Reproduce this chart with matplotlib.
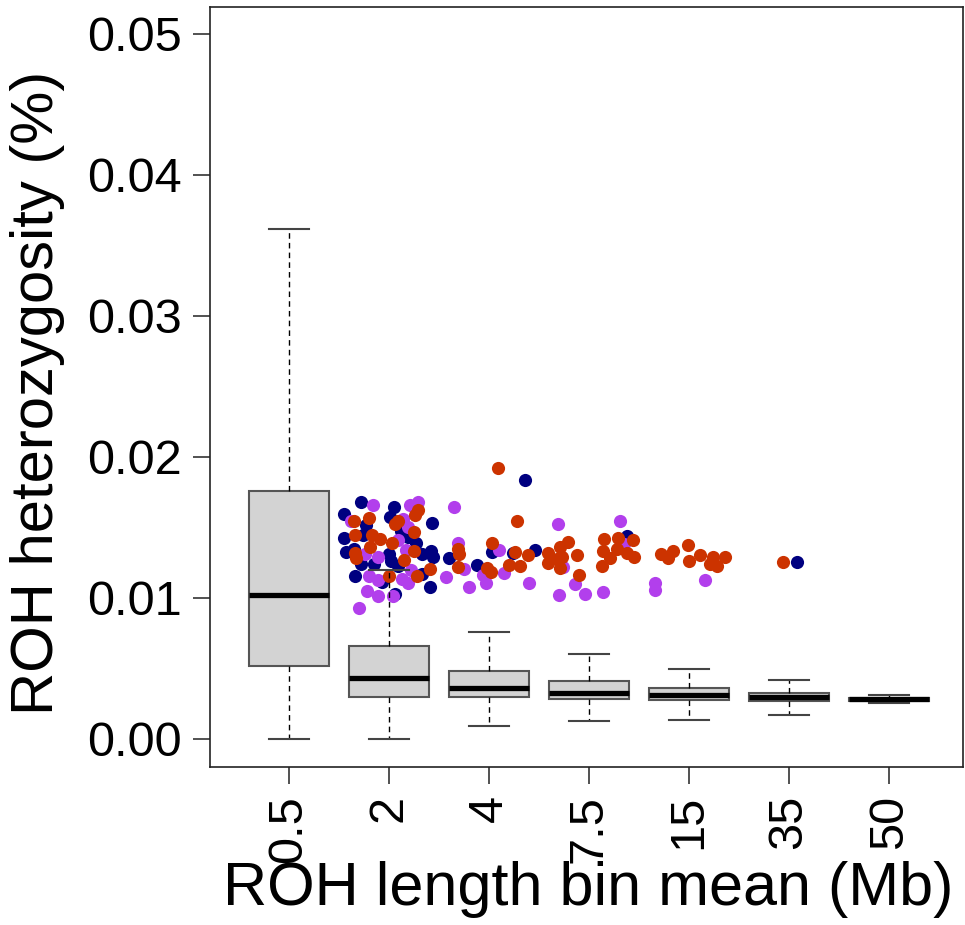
import matplotlib
matplotlib.use("Agg")
import matplotlib.pyplot as plt

plt.rcParams["font.family"] = ["Liberation Sans", "DejaVu Sans"]

# length bins (Mb) and their box summaries
bins = ["0.5", "2", "4", "7.5", "15", "35", "50"]
whislo = [0.0, 0.0, 0.0009, 0.00126, 0.00137, 0.0017, 0.00252]
q1 = [0.00518, 0.0030, 0.00296, 0.0028, 0.00274, 0.00266, 0.00266]
med = [0.01021, 0.00433, 0.00364, 0.00328, 0.0031, 0.00296, 0.0028]
q3 = [0.01759, 0.00662, 0.00484, 0.00409, 0.00362, 0.00329, 0.00293]
whishi = [0.03617, 0.0120, 0.00761, 0.00605, 0.00496, 0.00416, 0.00314]

# individual points per group (x in bin-position units, y heterozygosity)
navy_x = [1.72, 2.053, 1.553, 1.77, 2.01, 2.43, 2.12, 1.553, 1.743, 2.187,
          2.27, 1.57, 1.653, 2.003, 2.02, 2.33, 2.42, 2.437, 2.603, 1.72,
          1.853, 2.087, 1.66, 2.33, 1.927, 2.06, 2.41, 2.877, 3.36, 3.027,
          3.24, 3.46, 4.38, 6.077]
navy_y = [0.01677, 0.01648, 0.01592, 0.01514, 0.01571, 0.01530, 0.01477, 0.01426, 0.01449, 0.01430,
          0.01387, 0.01324, 0.01348, 0.01312, 0.01265, 0.01312, 0.01335, 0.01289, 0.01284, 0.01241,
          0.01241, 0.01229, 0.01156, 0.01170, 0.01116, 0.01028, 0.01080, 0.01234, 0.01837, 0.01328,
          0.01319, 0.01337, 0.01438, 0.01255]

purple_x = [1.84, 2.21, 2.287, 2.653, 1.62, 2.137, 2.187, 2.087, 1.763, 1.887,
            2.17, 2.687, 1.803, 1.887, 2.22, 2.57, 2.753, 1.777, 1.893, 2.04,
            1.703, 2.125, 2.193, 2.803, 3.103, 2.943, 2.97, 3.153, 3.4, 3.687,
            4.31, 4.353, 3.743, 3.86, 3.695, 3.96, 4.143, 4.657, 4.66, 5.163]
purple_y = [0.01656, 0.01656, 0.01679, 0.01643, 0.01544, 0.01560, 0.01501, 0.01411, 0.01312, 0.01289,
            0.01340, 0.01388, 0.01152, 0.01128, 0.01195, 0.01145, 0.01206, 0.01050, 0.01014, 0.01014,
            0.00929, 0.01135, 0.01109, 0.01078, 0.01340, 0.01163, 0.01104, 0.01174, 0.01104, 0.01527,
            0.01548, 0.01381, 0.01222, 0.01099, 0.01018, 0.01026, 0.01040, 0.01104, 0.01053, 0.01128]

orange_x = [3.087, 2.287, 2.263, 1.653, 1.803, 2.063, 2.087, 2.253, 1.663, 1.83,
            1.91, 2.03, 1.813, 1.663, 1.67, 2.147, 2.253, 2.687, 2.703, 1.995,
            2.28, 2.405, 2.693, 3.277, 3.03, 3.26, 3.393, 3.203, 3.31, 2.983,
            3.017, 3.593, 3.585, 3.793, 3.71, 3.883, 3.677, 3.71, 3.9, 4.148,
            4.287, 4.443, 4.143, 4.277, 4.377, 4.453, 4.21, 4.13, 4.717, 4.793,
            4.837, 4.993, 5.0, 5.11, 5.243, 5.21, 5.283, 5.36, 5.943, 3.73]
orange_y = [0.01920, 0.01624, 0.01591, 0.01544, 0.01567, 0.01525, 0.01544, 0.01466, 0.01449, 0.01443,
            0.01421, 0.01388, 0.01364, 0.01317, 0.01286, 0.01270, 0.01331, 0.01348, 0.01312, 0.01156,
            0.01156, 0.01206, 0.01222, 0.01546, 0.01392, 0.01323, 0.01305, 0.01234, 0.01229, 0.01211,
            0.01181, 0.01316, 0.01245, 0.01395, 0.01360, 0.01305, 0.01277, 0.01211, 0.01163, 0.01421,
            0.01423, 0.01411, 0.01330, 0.01345, 0.01317, 0.01293, 0.01282, 0.01229, 0.01310, 0.01282,
            0.01330, 0.01378, 0.01264, 0.01307, 0.01293, 0.01239, 0.01227, 0.01289, 0.01257, 0.01291]

fig = plt.figure(figsize=(9.65, 9.25), dpi=100)
ax = fig.add_axes([0.2176, 0.1708, 0.7804, 0.8216])

pt_size = 90
ax.scatter(navy_x, navy_y, s=pt_size, color="#000080", linewidths=0, zorder=2)
ax.scatter(purple_x, purple_y, s=pt_size, color="#B23FEC", linewidths=0, zorder=2)
ax.scatter(orange_x, orange_y, s=pt_size, color="#CC3300", linewidths=0, zorder=2)

stats = [
    dict(med=m, q1=a, q3=b, whislo=lo, whishi=hi, fliers=[])
    for m, a, b, lo, hi in zip(med, q1, q3, whislo, whishi)
]
ax.bxp(
    stats, positions=range(1, len(bins) + 1), widths=0.8, capwidths=0.4,
    patch_artist=True, showfliers=False, zorder=3,
    boxprops=dict(facecolor="#D3D3D3", edgecolor="#555555", linewidth=1.5),
    medianprops=dict(color="black", linewidth=3.8, solid_capstyle="butt"),
    whiskerprops=dict(color="black", linewidth=1, linestyle=(0, (4, 3))),
    capprops=dict(color="#444444", linewidth=1.5),
)

ax.set_xlim(0.21, 7.74)
ax.set_ylim(-0.00199, 0.0519)
ax.set_xticks(range(1, len(bins) + 1))
ax.set_xticklabels(bins, rotation=90, va="top", ha="center")
ax.set_yticks([0.0, 0.01, 0.02, 0.03, 0.04, 0.05])
ax.set_yticklabels(["0.00", "0.01", "0.02", "0.03", "0.04", "0.05"])
ax.tick_params(axis="both", labelsize=35, length=12, width=1.2, color="#333333", pad=8)
for sp in ax.spines.values():
    sp.set_linewidth(1.2)
    sp.set_color("#222222")

fig.text(588 / 965, (925 - 905) / 925, "ROH length bin mean (Mb)",
         fontsize=44, ha="center", va="baseline")
fig.text(38 / 965, 1 - 392.5 / 925, "ROH heterozygosity (%)",
         fontsize=43, ha="center", va="center", rotation=90)

fig.savefig("out.png", dpi=100)
